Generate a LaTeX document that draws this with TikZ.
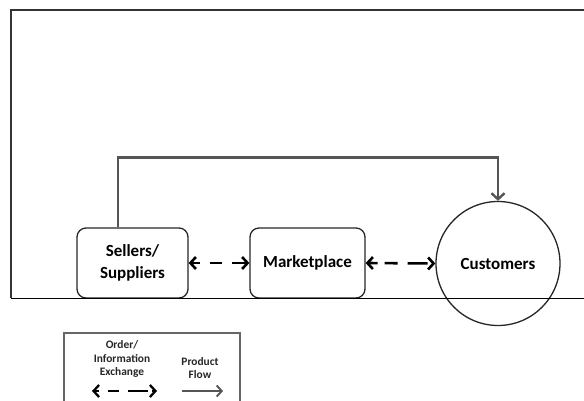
\documentclass[tikz,border=0pt]{standalone}
\usepackage{fontspec}
\setmainfont{Carlito}
\usetikzlibrary{arrows.meta,positioning,calc}
\definecolor{flowgray}{HTML}{555555}
\definecolor{framegray}{HTML}{333333}
\definecolor{legendgray}{HTML}{666666}
\tikzset{
  entity/.style={draw=black!85,line width=1.3pt,rounded corners=9pt,font=\fontsize{17}{21.5}\selectfont\bfseries,align=center,inner sep=0pt},
  cust/.style={draw=black!85,line width=1.3pt,circle,minimum size=124pt,inner sep=0pt,font=\fontsize{17}{21}\selectfont\bfseries},
  exch/.style={line width=2.6pt,{Straight Barb[length=5.5pt,width=12pt]}-{Straight Barb[length=5.5pt,width=12pt]}},
  flow/.style={draw=flowgray,line width=2.4pt,-{Straight Barb[length=6pt,width=13pt]}},
  legtext/.style={font=\fontsize{11.4}{13.5}\selectfont\bfseries,align=center,text=black!85,inner sep=0pt}
}
\begin{document}
\begin{tikzpicture}[x=1pt,y=-1pt]
\useasboundingbox (0,0) rectangle (584,401);
% nodes
\node[entity,minimum width=111pt,minimum height=70pt] (sellers) at (132.5,263) {Sellers/\\Suppliers};
\node[entity,minimum width=115pt,minimum height=70pt] (market) at (307.5,263) {Marketplace};
\node[cust] (customers) at (498,263.5) {Customers};
% exchanges
\draw[exch,dash pattern=on 8pt off 10pt on 12pt off 10pt on 20pt] (sellers.east) -- (market.west);
\draw[exch,dash pattern=on 9pt off 7pt on 13pt off 10pt on 20pt] (market.east) -- (customers.west);
% product flow
\draw[flow] ([xshift=-14.5pt]sellers.north) -- ++(0,-70) -| (customers.north);
% frame
\draw[framegray,line width=1.4pt] (11,298) -- (11,10) -- (584,10);
\draw[black,line width=1pt] (11,298) -- (584,298);
% legend
\coordinate (lgA) at (64,405);
\coordinate (lgB) at (240,405);
\draw[legendgray,line width=1.3pt] (lgA) -- (64,333) -- (240,333) -- (lgB);
\node[legtext] (legex) at (122,359) {Order/\\Information\\Exchange};
\node[legtext] (legfl) at (200,368) {Product\\Flow};
\coordinate (la1) at (92,391);
\coordinate (la2) at (157,391);
\coordinate (lb1) at (182,391);
\coordinate (lb2) at (223,391);
\draw[exch,line width=2.3pt,dash pattern=on 4pt off 9pt on 11pt off 9pt on 20pt] (la1) -- (la2);
\draw[flow,line width=1.9pt,-{Straight Barb[length=5pt,width=11pt]}] (lb1) -- (lb2);
\end{tikzpicture}
\end{document}
